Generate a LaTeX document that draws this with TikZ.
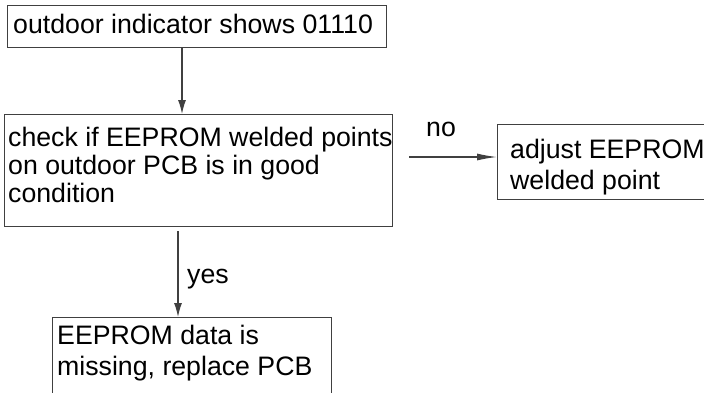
\documentclass[tikz,border=0pt]{standalone}
\usepackage{fontspec}
\setmainfont{Liberation Sans}
\usetikzlibrary{arrows.meta}
\definecolor{linegray}{HTML}{404040}
\tikzset{
  x=1pt, y=-1pt,
  box/.style={draw=linegray, line width=1.2pt, inner sep=0pt, anchor=north west},
  txt/.style={inner sep=0pt, anchor=base west, align=left, font=\fontsize{26.7}{31}\selectfont},
  lbl/.style={inner sep=0pt, anchor=base, font=\fontsize{26.7}{31}\selectfont},
  arr/.style={draw=linegray, line width=1.2pt, -{Latex[length=14pt,width=8pt]}},
  harr/.style={draw=linegray, line width=1.2pt, -{Latex[length=20pt,width=7pt]}}
}
\begin{document}
\begin{tikzpicture}
\useasboundingbox (0,0) rectangle (704,392);
% boxes
\node[box, minimum width=379pt, minimum height=42pt] (b1) at (7,5) {};
\node[box, minimum width=388pt, minimum height=112pt] (b2) at (4,114) {};
\node[box, minimum width=215pt, minimum height=75pt] (b3) at (497,124) {};
\node[box, minimum width=279pt, minimum height=120pt] (b4) at (52,317) {};
% texts (base anchor = baseline of the last line)
\node[txt] (t1) at (13,33) {outdoor indicator shows 01110};
\node[txt, font=\fontsize{26.7}{28}\selectfont] (t2) at (8,202) {check if EEPROM welded points\\on outdoor PCB is in good\\condition};
\node[txt] (t3) at (510,189) {adjust EEPROM\\welded point};
\node[txt] (t4) at (57,375) {EEPROM data is\\missing, replace PCB};
% connectors
\coordinate (c1) at (182,0);
\coordinate (c2) at (178,0);
\coordinate (c3) at (0,157);
\draw[arr] (b1.south -| c1) -- (b2.north -| c1);
\draw[arr, shorten <=4pt] (b2.south -| c2) -- (b4.north -| c2);
\draw[harr, shorten <=16pt] (b2.east |- c3) -- (b3.west |- c3);
% labels
\node[lbl] (no) at (441,136) {no};
\node[lbl, anchor=base west] (yes) at (187,283) {yes};
\end{tikzpicture}
\end{document}
